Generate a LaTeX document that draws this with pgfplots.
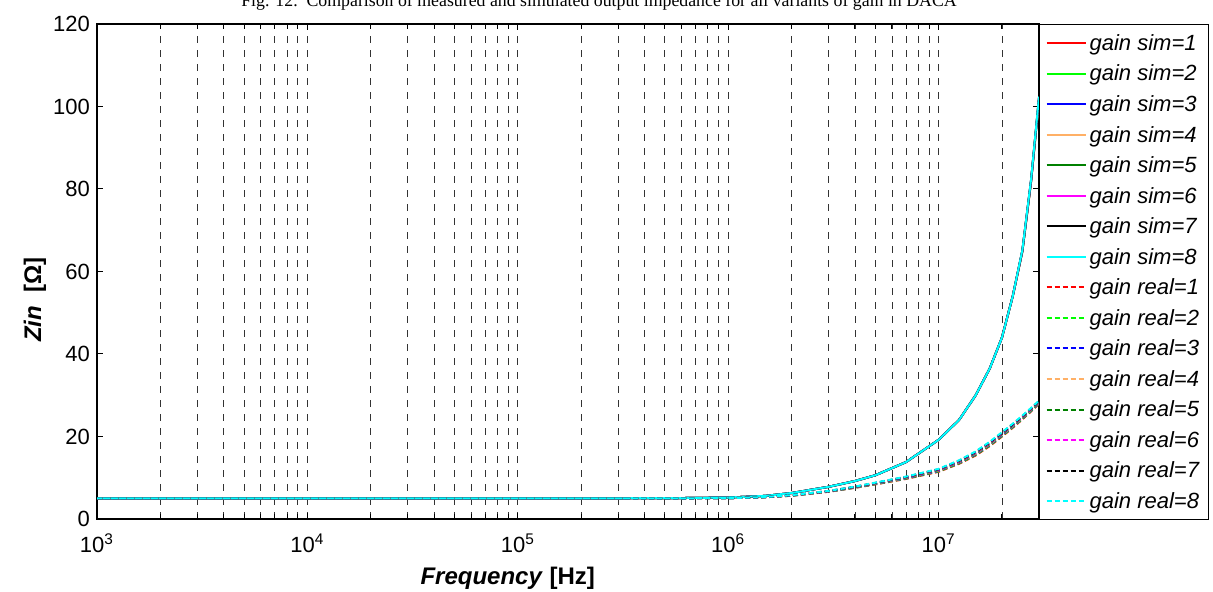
\documentclass[border=0pt]{standalone}
\usepackage{fontspec}
\setmainfont{Liberation Sans}
\newfontfamily\seriffont{Liberation Serif}
\usepackage{pgfplots}
\usepackage{pgfplotstable}
\pgfplotsset{compat=1.18}

\definecolor{g1}{rgb}{1,0,0}
\definecolor{g2}{rgb}{0,1,0}
\definecolor{g3}{rgb}{0,0,1}
\definecolor{g4}{rgb}{1,0.69,0.4}
\definecolor{g5}{rgb}{0,0.5,0}
\definecolor{g6}{rgb}{1,0,1}
\definecolor{g7}{rgb}{0,0,0}
\definecolor{g8}{rgb}{0,1,1}

% simulated input impedance [Ohm] vs frequency [Hz]
\pgfplotstableread{
f       s1    s2    s3    s4    s5    s6    s7    s8
1e3     5.0   5.0   5.0   5.0   5.0   5.0   5.0   5.0
1e4     5.0   5.0   5.0   5.0   5.0   5.0   5.0   5.0
1e5     5.0   5.0   5.0   5.0   5.0   5.0   5.0   5.0
3e5     5.02  5.02  5.02  5.02  5.02  5.02  5.02  5.02
6e5     5.08  5.08  5.08  5.08  5.08  5.08  5.08  5.08
1e6     5.2   5.2   5.2   5.2   5.2   5.2   5.2   5.2
1.5e6   5.6   5.6   5.6   5.6   5.6   5.6   5.6   5.6
2e6     6.3   6.3   6.3   6.3   6.3   6.3   6.3   6.3
3e6     7.8   7.8   7.8   7.8   7.8   7.8   7.8   7.8
4e6     9.2   9.2   9.2   9.2   9.2   9.2   9.2   9.2
5e6     10.6  10.6  10.6  10.6  10.6  10.6  10.6  10.6
7e6     13.8  13.8  13.8  13.8  13.8  13.8  13.8  13.8
1e7     19.2  19.2  19.2  19.2  19.2  19.2  19.2  19.2
1.25e7  24.0  24.0  24.0  24.0  24.0  24.0  24.0  24.0
1.5e7   30.0  30.0  30.0  30.0  30.0  30.0  30.0  30.0
1.75e7  36.5  36.5  36.5  36.5  36.5  36.5  36.5  36.5
2e7     44.0  44.0  44.0  44.0  44.0  44.0  44.0  44.0
2.25e7  54.0  54.0  54.0  54.0  54.0  54.0  54.0  54.0
2.5e7   64.8  64.9  64.9  65.0  65.0  65.1  65.1  65.2
2.75e7  81.7  81.8  81.9  82.0  82.0  82.1  82.2  82.3
3e7     101.6 101.7 101.8 101.9 102.0 102.1 102.2 102.4
}\simdata

% measured input impedance [Ohm] vs frequency [Hz]
\pgfplotstableread{
f       r1    r2    r3    r4    r5    r6    r7    r8
1e3     5.0   5.0   5.0   5.0   5.0   5.0   5.0   5.0
1e4     5.0   5.0   5.0   5.0   5.0   5.0   5.0   5.0
1e5     5.0   5.0   5.0   5.0   5.0   5.0   5.0   5.0
3e5     5.0   5.0   5.0   5.0   5.0   5.0   5.0   5.0
6e5     5.02  5.02  5.02  5.02  5.02  5.02  5.02  5.02
1e6     5.05  5.05  5.05  5.05  5.05  5.05  5.05  5.05
1.5e6   5.27  5.28  5.29  5.30  5.30  5.31  5.32  5.33
2e6     5.63  5.65  5.67  5.69  5.71  5.73  5.75  5.77
3e6     6.60  6.63  6.66  6.69  6.72  6.75  6.78  6.81
4e6     7.56  7.60  7.64  7.68  7.72  7.76  7.80  7.84
5e6     8.39  8.45  8.51  8.57  8.63  8.69  8.75  8.81
7e6     9.72  9.80  9.88  9.96  10.04 10.12 10.20 10.28
1e7     11.45 11.55 11.65 11.75 11.85 11.95 12.05 12.15
1.25e7  13.38 13.50 13.62 13.74 13.86 13.98 14.10 14.22
1.5e7   15.41 15.55 15.69 15.83 15.97 16.11 16.25 16.39
1.75e7  17.68 17.83 17.98 18.13 18.28 18.43 18.58 18.73
2e7     19.98 20.13 20.28 20.43 20.58 20.73 20.88 21.03
2.25e7  22.11 22.25 22.39 22.53 22.67 22.81 22.95 23.09
2.5e7   24.15 24.28 24.41 24.54 24.67 24.80 24.93 25.06
2.75e7  26.08 26.20 26.32 26.44 26.56 26.68 26.80 26.92
3e7     27.92 28.03 28.14 28.25 28.36 28.47 28.58 28.69
}\realdata

\begin{document}
\begin{tikzpicture}
\begin{axis}[
    at={(0,0)}, anchor=south west,
    scale only axis, width=471pt, height=247.5pt,
    xmode=log, log basis x=10,
    xmin=1e3, xmax=3e7, ymin=0, ymax=120,
    xtick={1e3,1e4,1e5,1e6,1e7},
    xticklabels={10\textsuperscript{3},10\textsuperscript{4},10\textsuperscript{5},10\textsuperscript{6},10\textsuperscript{7}},
    minor xtick={2e3,3e3,4e3,5e3,6e3,7e3,8e3,9e3,
                 2e4,3e4,4e4,5e4,6e4,7e4,8e4,9e4,
                 2e5,3e5,4e5,5e5,6e5,7e5,8e5,9e5,
                 2e6,3e6,4e6,5e6,6e6,7e6,8e6,9e6,2e7},
    ytick={0,20,...,120},
    /pgf/number format/assume math mode=true,
    ticklabel style={font=\fontsize{11}{12}\selectfont},
    xticklabel style={yshift=-4pt},
    xmajorgrids, xminorgrids,
    major grid style={black!80, line width=0.4pt, dash pattern=on 3.5pt off 3.5pt},
    minor grid style={black!80, line width=0.4pt, dash pattern=on 3.5pt off 3.5pt},
    tick align=inside, major tick length=3pt, minor tick length=2.5pt,
    tick style={black, line width=0.5pt},
    axis line style={line width=0.6pt},
    xlabel={\textbf{\textit{Frequency} [Hz]}},
    ylabel={\textbf{\textit{Zin}\ \ [Ω]}},
    label style={font=\fontsize{12}{14}\selectfont},
    xlabel style={at={(axis description cs:0.436,-0.119)}, anchor=center},
    ylabel style={at={(axis description cs:-0.0658,0.443)}, anchor=center},
    legend cell align=left,
    legend image code/.code={\draw[#1, line width=1pt] (0pt,0pt) -- (19.5pt,0pt);},
    legend style={at={(1,1)}, anchor=north west, draw=black, line width=0.6pt,
        font=\itshape\fontsize{11}{12}\selectfont,
        inner xsep=3pt, inner ysep=2.6pt, row sep=1.97pt,
        nodes={inner xsep=1.5pt, inner ysep=0pt, text height=10.3pt, text depth=3pt}},
]
\addplot[g1, line width=1pt] table[x=f, y=s1] {\simdata};
\addplot[g2, line width=1pt] table[x=f, y=s2] {\simdata};
\addplot[g3, line width=1pt] table[x=f, y=s3] {\simdata};
\addplot[g4, line width=1pt] table[x=f, y=s4] {\simdata};
\addplot[g5, line width=1pt] table[x=f, y=s5] {\simdata};
\addplot[g6, line width=1pt] table[x=f, y=s6] {\simdata};
\addplot[g7, line width=1pt] table[x=f, y=s7] {\simdata};
\addplot[g8, line width=1pt] table[x=f, y=s8] {\simdata};
\addplot[g1, line width=1pt, dash pattern=on 2.5pt off 1.5pt] table[x=f, y=r1] {\realdata};
\addplot[g2, line width=1pt, dash pattern=on 2.5pt off 1.5pt] table[x=f, y=r2] {\realdata};
\addplot[g3, line width=1pt, dash pattern=on 2.5pt off 1.5pt] table[x=f, y=r3] {\realdata};
\addplot[g4, line width=1pt, dash pattern=on 2.5pt off 1.5pt] table[x=f, y=r4] {\realdata};
\addplot[g5, line width=1pt, dash pattern=on 2.5pt off 1.5pt] table[x=f, y=r5] {\realdata};
\addplot[g6, line width=1pt, dash pattern=on 2.5pt off 1.5pt] table[x=f, y=r6] {\realdata};
\addplot[g7, line width=1pt, dash pattern=on 2.5pt off 1.5pt] table[x=f, y=r7] {\realdata};
\addplot[g8, line width=1pt, dash pattern=on 2.5pt off 1.5pt] table[x=f, y=r8] {\realdata};
\legend{gain sim=1, gain sim=2, gain sim=3, gain sim=4, gain sim=5, gain sim=6, gain sim=7, gain sim=8,
        gain real=1, gain real=2, gain real=3, gain real=4, gain real=5, gain real=6, gain real=7, gain real=8}
\end{axis}
\node[font=\seriffont\fontsize{8.9}{10}\selectfont, anchor=base] at (251pt,256pt)
    {Fig. 12.\ \ Comparison of measured and simulated output impedance for all variants of gain in DACA};
\pgfresetboundingbox
\path[use as bounding box] (-48.5pt,-36.5pt) rectangle (558pt,259.5pt);
\end{tikzpicture}
\end{document}
